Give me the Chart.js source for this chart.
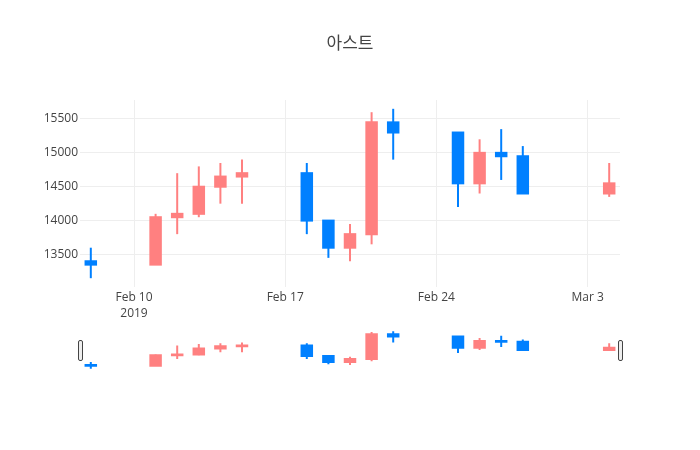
<!DOCTYPE html>
<html><head><meta charset="utf-8">
<script src="https://cdn.jsdelivr.net/npm/chart.js@4.4.1/dist/chart.umd.min.js"></script>
<style>
html,body{margin:0;padding:0;background:#fff}
#wrap{position:relative;width:700px;height:450px}
canvas{position:absolute;left:0;top:0}
</style>
</head><body>
<div id="wrap"><canvas id="main" width="700" height="450"></canvas><canvas id="slider" width="700" height="450"></canvas></div>
<script>
const titleText = '아스트';
const dates = ['2019-02-08','2019-02-11','2019-02-12','2019-02-13','2019-02-14','2019-02-15',
  '2019-02-18','2019-02-19','2019-02-20','2019-02-21','2019-02-22',
  '2019-02-25','2019-02-26','2019-02-27','2019-02-28','2019-03-04'];
const openValues  = [13400,13350,14050,14100,14500,14650,14700,14000,13600,13800,15450,15300,14550,15000,14950,14400];
const highValues  = [13600,14100,14700,14800,14850,14900,14850,14000,13950,15600,15650,15300,15200,15350,15100,14850];
const lowValues   = [13150,13350,13800,14050,14250,14250,13800,13450,13400,13650,14900,14200,14400,14600,14400,14350];
const closeValues = [13350,14050,14100,14500,14650,14700,14000,13600,13800,15450,15300,14550,15000,14950,14400,14550];
const yTickValues = [13500,14000,14500,15000,15500];
const xTickDates = ['2019-02-10','2019-02-17','2019-02-24','2019-03-03'];
const xTickLabels = [['Feb 10','2019'],['Feb 17'],['Feb 24'],['Mar 3']];

const INC = 'rgb(255,128,128)';
const DEC = 'rgb(0,128,255)';
const FONT = "'Open Sans', 'Noto Sans CJK KR', sans-serif";
const REF = Date.UTC(2019,1,10);
function dayOf(s){ const p=s.split('-').map(Number); return (Date.UTC(p[0],p[1]-1,p[2])-REF)/86400000; }
const xs = dates.map(dayOf);
const xMin = Math.min(...xs)-0.5, xMax = Math.max(...xs)+0.5;
const colorFn = c => closeValues[c.dataIndex] >= openValues[c.dataIndex] ? INC : DEC;

function makeDatasets(){
  return [
    {label:'body', data: xs.map((x,i)=>({x, y:[openValues[i], closeValues[i]]})),
     backgroundColor: colorFn, borderWidth:0, barThickness:10.5, inflateAmount:1, grouped:false, order:0},
    {label:'wick', data: xs.map((x,i)=>({x, y:[lowValues[i], highValues[i]]})),
     backgroundColor: colorFn, borderWidth:0, barThickness:2, inflateAmount:0, grouped:false, order:1}
  ];
}

new Chart(document.getElementById('main'), {
  type:'bar',
  data:{datasets: makeDatasets()},
  options:{
    responsive:false, animation:false, devicePixelRatio:1,
    layout:{padding:{left:0,right:0,top:0,bottom:0}},
    plugins:{
      legend:{display:false}, tooltip:{enabled:false},
      title:{display:true, text:titleText, color:'#444',
        font:{family:FONT, size:17, weight:'normal', lineHeight:1.2},
        padding:{top:34, bottom:45.6}}
    },
    scales:{
      x:{type:'linear', min:xMin, max:xMax, offset:false,
        grid:{color:'#eee', drawTicks:false, offset:false}, border:{display:false},
        afterBuildTicks: s => { s.ticks = xTickDates.map(d=>({value:dayOf(d)})); },
        afterFit: s => { s.height = 163; },
        ticks:{color:'#444', padding:3, maxRotation:0, autoSkip:false,
          font:{family:FONT, size:12, lineHeight:1.3},
          callback:(v,i)=>xTickLabels[i]}
      },
      y:{type:'linear', min:13020, max:15780,
        grid:{color:'#eee', drawTicks:false}, border:{display:false},
        afterBuildTicks: s => { s.ticks = yTickValues.map(v=>({value:v})); },
        afterFit: s => { s.width = 80; },
        ticks:{color:'#444', padding:2, font:{family:FONT, size:12},
          callback:v=>String(v)}
      },
      yRight:{type:'linear', position:'right', min:13020, max:15780,
        grid:{display:false, drawTicks:false}, border:{display:false},
        ticks:{display:false},
        afterFit: s => { s.width = 80; }
      }
    }
  }
});

const handles = {
  id:'handles',
  afterDraw(chart){
    const {ctx, chartArea:a} = chart;
    const cy = (a.top+a.bottom)/2;
    ctx.save();
    [a.left, a.right].forEach(x=>{
      ctx.beginPath();
      const w=4, h=20, r=1.5;
      ctx.roundRect(x-w/2+0.5, cy-h/2+0.5, w, h, r);
      ctx.fillStyle='#eee'; ctx.fill();
      ctx.strokeStyle='#444'; ctx.lineWidth=1; ctx.stroke();
    });
    ctx.restore();
  }
};

new Chart(document.getElementById('slider'), {
  type:'bar',
  data:{datasets: makeDatasets()},
  options:{
    responsive:false, animation:false, devicePixelRatio:1,
    layout:{padding:{left:80,right:80,top:329,bottom:79}},
    plugins:{legend:{display:false}, tooltip:{enabled:false}},
    scales:{
      x:{type:'linear', min:xMin, max:xMax, offset:false, display:false},
      y:{type:'linear', min:13000, max:15800, display:false}
    }
  },
  plugins:[handles]
});
</script>
</body></html>
